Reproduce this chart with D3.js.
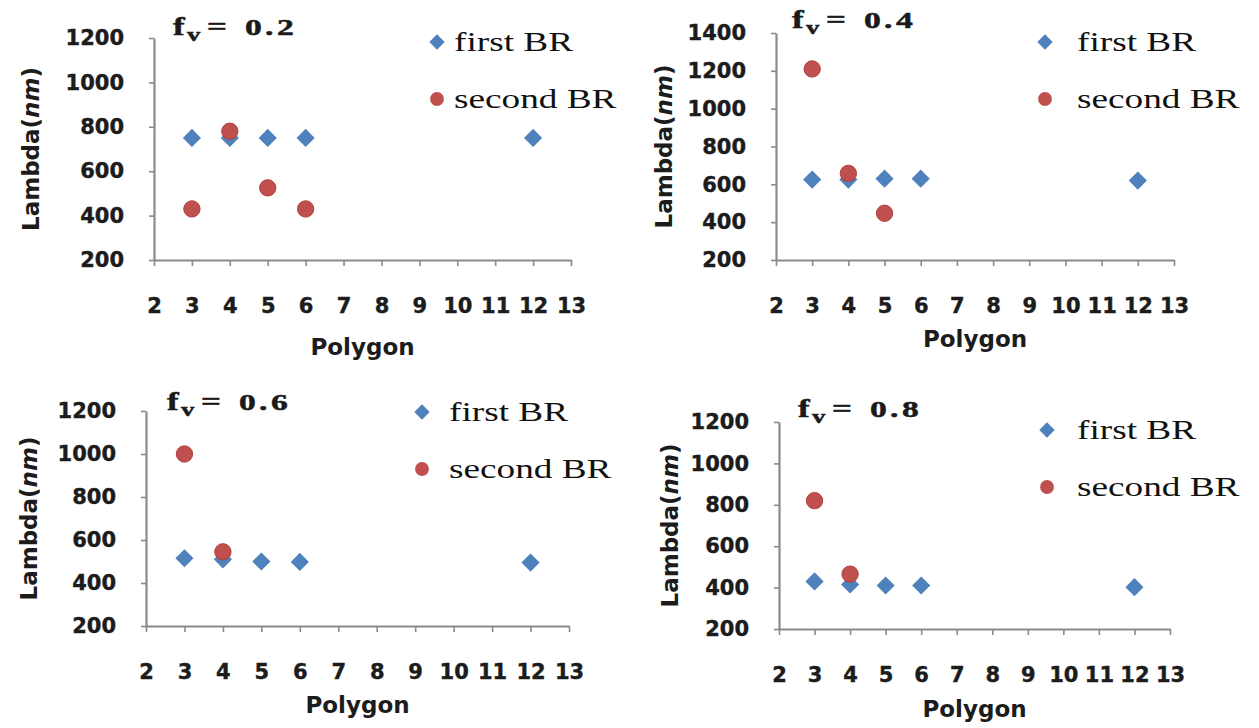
<!DOCTYPE html>
<html>
<head>
<meta charset="utf-8">
<script src="https://cdn.jsdelivr.net/npm/d3@7"></script>
<style>
  html, body { margin: 0; padding: 0; background: #fff; }
  svg { display: block; }
</style>
</head>
<body>
<svg id="chart" width="1259" height="728"></svg>
<script>
// Band-gap wavelengths (nm) against polygon order, for four volume fractions.
const polygonTicks = [2, 3, 4, 5, 6, 7, 8, 9, 10, 11, 12, 13];
const firstPolygons = [3, 4, 5, 6, 12];

const fv02First = [750, 750, 750, 750, 750];
const fv02SecondPolygons = [3, 4, 5, 6];
const fv02Second = [430, 780, 525, 430];

const fv04First = [625, 625, 630, 630, 620];
const fv04SecondPolygons = [3, 4, 5];
const fv04Second = [1210, 658, 447];

const fv06First = [515, 510, 500, 498, 495];
const fv06SecondPolygons = [3, 4];
const fv06Second = [1000, 545];

const fv08First = [430, 415, 410, 410, 402];
const fv08SecondPolygons = [3, 4];
const fv08Second = [820, 465];

const ticks1200 = [200, 400, 600, 800, 1000, 1200];
const ticks1400 = [200, 400, 600, 800, 1000, 1200, 1400];

const seriesNames = ["first BR", "second BR"];
const BLUE = "#4f81bd";
const RED = "#c0504d";
const AXIS = "#8a8a8a";

// Panel layouts (pixel frames) paired with the data they show.
const panels = [
  { fv: "0.2", first: fv02First, secondX: fv02SecondPolygons, second: fv02Second, yTicks: ticks1200,
    left: 154, right: 571, top: 38, bottom: 260, titleX: 173, titleY: 35,
    legX: 437, legY1: 42, legY2: 99, legTextX: 454, yLabelX: 31, polyY: 355 },
  { fv: "0.4", first: fv04First, secondX: fv04SecondPolygons, second: fv04Second, yTicks: ticks1400,
    left: 776, right: 1174, top: 33, bottom: 260, titleX: 792, titleY: 28,
    legX: 1045, legY1: 42, legY2: 99, legTextX: 1077, yLabelX: 664, polyY: 347 },
  { fv: "0.6", first: fv06First, secondX: fv06SecondPolygons, second: fv06Second, yTicks: ticks1200,
    left: 146, right: 569, top: 411, bottom: 626, titleX: 167, titleY: 410,
    legX: 422, legY1: 412, legY2: 469, legTextX: 449, yLabelX: 29, polyY: 713 },
  { fv: "0.8", first: fv08First, secondX: fv08SecondPolygons, second: fv08Second, yTicks: ticks1200,
    left: 779, right: 1170, top: 422, bottom: 629, titleX: 798, titleY: 417,
    legX: 1047, legY1: 430, legY2: 487, legTextX: 1077, yLabelX: 670, polyY: 717 }
];

const svg = d3.select("#chart");
const diamond = d3.symbol().type(d3.symbolDiamond2).size(210);
const dot = d3.symbol().type(d3.symbolCircle).size(210);
const legendDiamond = d3.symbol().type(d3.symbolDiamond2).size(150);
const legendDot = d3.symbol().type(d3.symbolCircle).size(150);

const tickFont = "'DejaVu Sans', sans-serif";
const serif = "'Liberation Serif', 'Times New Roman', serif";

panels.forEach(p => {
  const g = svg.append("g");
  const yMax = p.yTicks[p.yTicks.length - 1];
  const x = d3.scaleLinear().domain([2, 13]).range([p.left, p.right]);
  const y = d3.scaleLinear().domain([200, yMax]).range([p.bottom, p.top]);

  // y axis
  const ya = g.append("g")
    .attr("transform", `translate(${p.left},0)`)
    .call(d3.axisLeft(y).tickValues(p.yTicks).tickSize(5).tickSizeOuter(0).tickPadding(25)
      .tickFormat(d3.format("d")));
  // x axis
  const xa = g.append("g")
    .attr("transform", `translate(0,${p.bottom})`)
    .call(d3.axisBottom(x).tickValues(polygonTicks).tickSize(6).tickSizeOuter(0).tickPadding(32)
      .tickFormat(d3.format("d")));

  [ya, xa].forEach(a => {
    a.select(".domain").attr("stroke", AXIS).attr("stroke-width", 2.2);
    a.selectAll(".tick line").attr("stroke", AXIS).attr("stroke-width", 1.6);
    a.selectAll(".tick text")
      .attr("fill", "#1c1c1c")
      .attr("stroke", "#1c1c1c").attr("stroke-width", 0.4)
      .style("font-family", tickFont)
      .style("font-weight", "bold")
      .style("font-size", "21px");
  });

  // axis titles
  g.append("text")
    .attr("x", (p.left + p.right) / 2)
    .attr("y", p.polyY)
    .attr("text-anchor", "middle")
    .attr("fill", "#1c1c1c")
    .style("font-family", tickFont).style("font-weight", "bold").style("font-size", "23px")
    .text("Polygon");

  const yl = g.append("text")
    .attr("transform", `translate(${p.yLabelX},${(p.top + p.bottom) / 2}) rotate(-90)`)
    .attr("text-anchor", "middle")
    .attr("dy", "0.36em")
    .attr("fill", "#1c1c1c")
    .style("font-family", tickFont).style("font-weight", "bold").style("font-size", "23px");
  yl.append("tspan").text("Lambda(");
  yl.append("tspan").style("font-style", "italic").text("nm");
  yl.append("tspan").text(")");

  // points: first BR (diamonds), then second BR (circles) on top
  g.append("g").selectAll("path")
    .data(d3.zip(firstPolygons, p.first))
    .join("path")
    .attr("d", diamond)
    .attr("transform", d => `translate(${x(d[0])},${y(d[1])})`)
    .attr("fill", BLUE);

  g.append("g").selectAll("path")
    .data(d3.zip(p.secondX, p.second))
    .join("path")
    .attr("d", dot)
    .attr("transform", d => `translate(${x(d[0])},${y(d[1])})`)
    .attr("fill", RED)
    .attr("stroke", "#b0403d").attr("stroke-width", 1);

  // panel title: f_v = value
  const sx = 1.4;
  const glyph = (txt, dx, dy, size) => g.append("text")
    .attr("transform", `translate(${p.titleX + dx},${p.titleY + dy}) scale(${sx},1)`)
    .attr("fill", "#1a1a1a")
    .attr("stroke", "#1a1a1a").attr("stroke-width", 0.5)
    .style("font-family", serif).style("font-weight", "bold").style("font-size", size + "px")
    .text(txt);
  glyph("f", 0, 0, 25);
  glyph("v", 14, 6, 19);
  glyph("=", 34, 0, 25);
  glyph(p.fv.charAt(0), 72, 0, 24);
  glyph(".", 92, 0, 24);
  glyph(p.fv.charAt(2), 104, 0, 24);

  // legend
  g.append("path").attr("d", legendDiamond)
    .attr("transform", `translate(${p.legX},${p.legY1})`).attr("fill", BLUE);
  g.append("path").attr("d", legendDot)
    .attr("transform", `translate(${p.legX},${p.legY2})`).attr("fill", RED);
  [[seriesNames[0], p.legY1], [seriesNames[1], p.legY2]].forEach(([name, ly]) => {
    g.append("text")
      .attr("transform", `translate(${p.legTextX},${ly + 9}) scale(1.38,1)`)
      .attr("fill", "#111")
      .style("font-family", serif).style("font-size", "27px")
      .text(name);
  });
});
</script>
</body>
</html>
